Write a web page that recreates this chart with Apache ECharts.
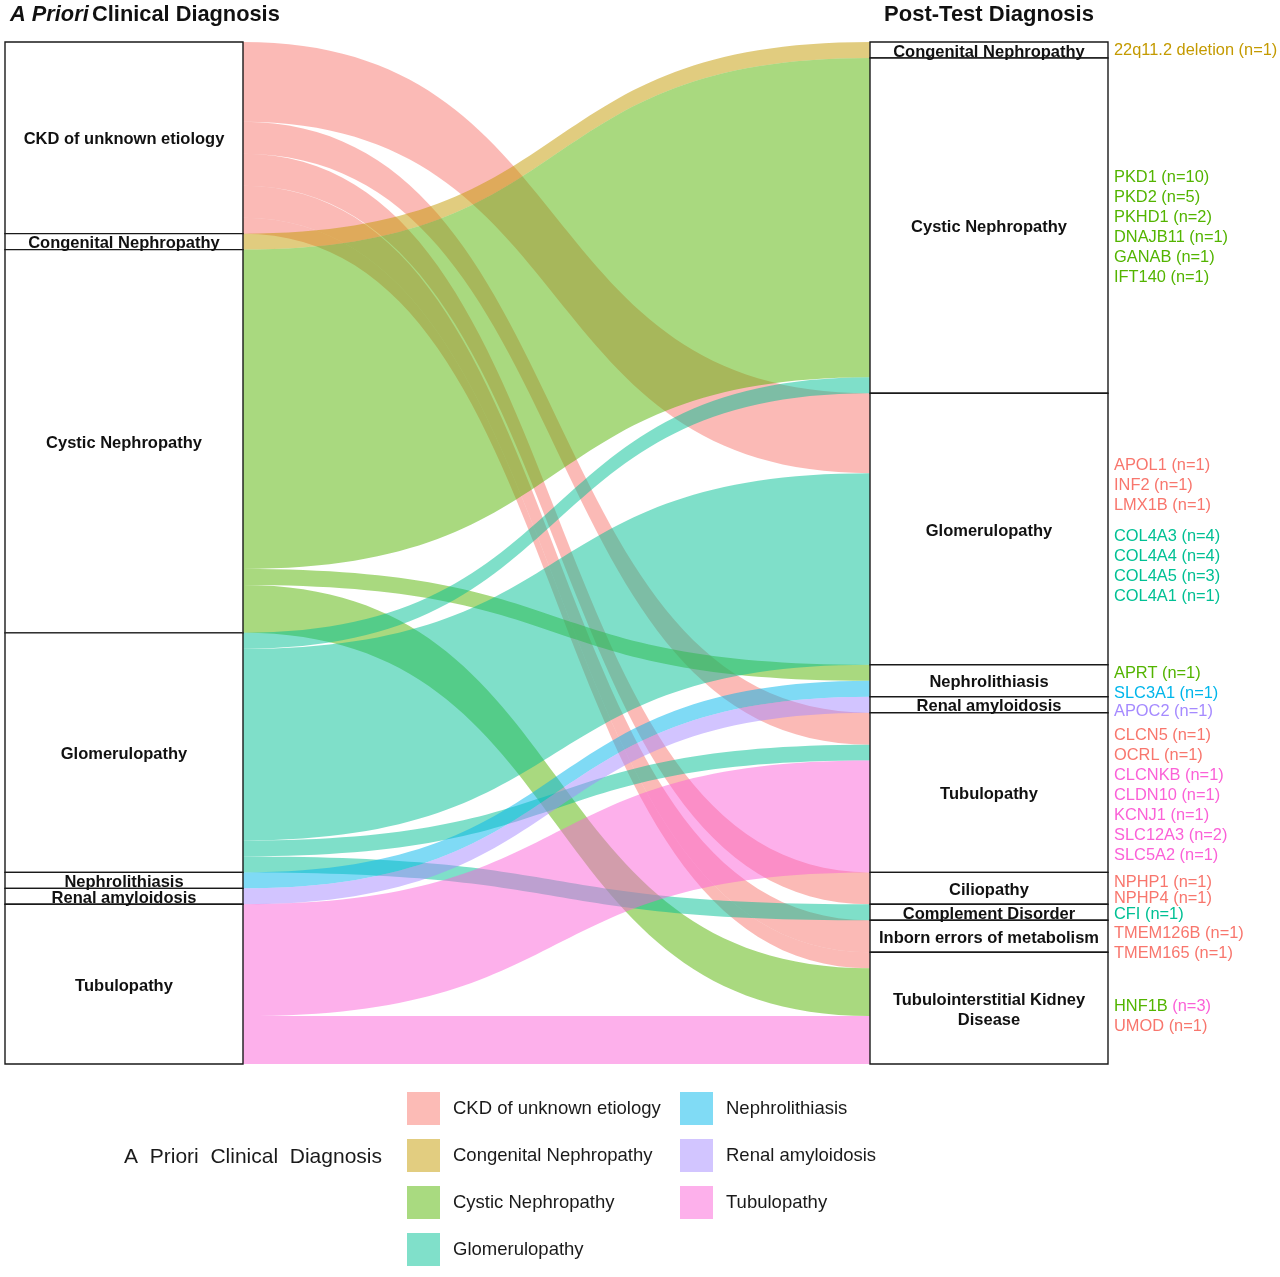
<!DOCTYPE html>
<html>
<head>
<meta charset="utf-8">
<title>A Priori vs Post-Test Diagnosis</title>
<script src="https://cdn.jsdelivr.net/npm/echarts@6/dist/echarts.min.js"></script>
<style>
  html, body { margin: 0; padding: 0; background: #fff; }
  #chart { width: 1280px; height: 1277px; }
</style>
</head>
<body>
<div id="chart"></div>
<script>
// strata, top to bottom
const prioriGroups = [
  'CKD of unknown etiology', 'Congenital Nephropathy', 'Cystic Nephropathy', 'Glomerulopathy',
  'Nephrolithiasis', 'Renal amyloidosis', 'Tubulopathy'
];
const postTestGroups = [
  'Congenital Nephropathy', 'Cystic Nephropathy', 'Glomerulopathy', 'Nephrolithiasis',
  'Renal amyloidosis', 'Tubulopathy', 'Ciliopathy', 'Complement Disorder',
  'Inborn errors of metabolism', 'Tubulointerstitial Kidney Disease'
];

// [a priori, post-test, patients]
const flows = [
  ['CKD of unknown etiology', 'Glomerulopathy', 5],
  ['CKD of unknown etiology', 'Tubulopathy', 2],
  ['CKD of unknown etiology', 'Ciliopathy', 2],
  ['CKD of unknown etiology', 'Inborn errors of metabolism', 2],
  ['CKD of unknown etiology', 'Tubulointerstitial Kidney Disease', 1],
  ['Congenital Nephropathy', 'Congenital Nephropathy', 1],
  ['Cystic Nephropathy', 'Cystic Nephropathy', 20],
  ['Cystic Nephropathy', 'Nephrolithiasis', 1],
  ['Cystic Nephropathy', 'Tubulointerstitial Kidney Disease', 3],
  ['Glomerulopathy', 'Cystic Nephropathy', 1],
  ['Glomerulopathy', 'Glomerulopathy', 12],
  ['Glomerulopathy', 'Tubulopathy', 1],
  ['Glomerulopathy', 'Complement Disorder', 1],
  ['Nephrolithiasis', 'Nephrolithiasis', 1],
  ['Renal amyloidosis', 'Renal amyloidosis', 1],
  ['Tubulopathy', 'Tubulopathy', 7],
  ['Tubulopathy', 'Tubulointerstitial Kidney Disease', 3]
];

// [post-test stratum, gene, n, group colouring the gene, group colouring the count]
const geneLabels = [
  ['Congenital Nephropathy', '22q11.2 deletion', 1, 'Congenital Nephropathy', 'Congenital Nephropathy'],
  ['Cystic Nephropathy', 'PKD1', 10, 'Cystic Nephropathy', 'Cystic Nephropathy'],
  ['Cystic Nephropathy', 'PKD2', 5, 'Cystic Nephropathy', 'Cystic Nephropathy'],
  ['Cystic Nephropathy', 'PKHD1', 2, 'Cystic Nephropathy', 'Cystic Nephropathy'],
  ['Cystic Nephropathy', 'DNAJB11', 1, 'Cystic Nephropathy', 'Cystic Nephropathy'],
  ['Cystic Nephropathy', 'GANAB', 1, 'Cystic Nephropathy', 'Cystic Nephropathy'],
  ['Cystic Nephropathy', 'IFT140', 1, 'Cystic Nephropathy', 'Cystic Nephropathy'],
  ['Glomerulopathy', 'APOL1', 1, 'CKD of unknown etiology', 'CKD of unknown etiology'],
  ['Glomerulopathy', 'INF2', 1, 'CKD of unknown etiology', 'CKD of unknown etiology'],
  ['Glomerulopathy', 'LMX1B', 1, 'CKD of unknown etiology', 'CKD of unknown etiology'],
  ['Glomerulopathy', 'COL4A3', 4, 'Glomerulopathy', 'Glomerulopathy'],
  ['Glomerulopathy', 'COL4A4', 4, 'Glomerulopathy', 'Glomerulopathy'],
  ['Glomerulopathy', 'COL4A5', 3, 'Glomerulopathy', 'Glomerulopathy'],
  ['Glomerulopathy', 'COL4A1', 1, 'Glomerulopathy', 'Glomerulopathy'],
  ['Nephrolithiasis', 'APRT', 1, 'Cystic Nephropathy', 'Cystic Nephropathy'],
  ['Nephrolithiasis', 'SLC3A1', 1, 'Nephrolithiasis', 'Nephrolithiasis'],
  ['Renal amyloidosis', 'APOC2', 1, 'Renal amyloidosis', 'Renal amyloidosis'],
  ['Tubulopathy', 'CLCN5', 1, 'CKD of unknown etiology', 'CKD of unknown etiology'],
  ['Tubulopathy', 'OCRL', 1, 'CKD of unknown etiology', 'CKD of unknown etiology'],
  ['Tubulopathy', 'CLCNKB', 1, 'Tubulopathy', 'Tubulopathy'],
  ['Tubulopathy', 'CLDN10', 1, 'Tubulopathy', 'Tubulopathy'],
  ['Tubulopathy', 'KCNJ1', 1, 'Tubulopathy', 'Tubulopathy'],
  ['Tubulopathy', 'SLC12A3', 2, 'Tubulopathy', 'Tubulopathy'],
  ['Tubulopathy', 'SLC5A2', 1, 'Tubulopathy', 'Tubulopathy'],
  ['Ciliopathy', 'NPHP1', 1, 'CKD of unknown etiology', 'CKD of unknown etiology'],
  ['Ciliopathy', 'NPHP4', 1, 'CKD of unknown etiology', 'CKD of unknown etiology'],
  ['Complement Disorder', 'CFI', 1, 'Glomerulopathy', 'Glomerulopathy'],
  ['Inborn errors of metabolism', 'TMEM126B', 1, 'CKD of unknown etiology', 'CKD of unknown etiology'],
  ['Inborn errors of metabolism', 'TMEM165', 1, 'CKD of unknown etiology', 'CKD of unknown etiology'],
  ['Tubulointerstitial Kidney Disease', 'HNF1B', 3, 'Cystic Nephropathy', 'Tubulopathy'],
  ['Tubulointerstitial Kidney Disease', 'UMOD', 1, 'CKD of unknown etiology', 'CKD of unknown etiology']
];

// styling
const FONT = '"Liberation Sans", Arial, Helvetica, sans-serif';
const hues = ['#F8766D', '#C49A00', '#53B400', '#00C094', '#00B6EB', '#A58AFF', '#FB61D7'];
const gapBefore = ['COL4A3'];
const tightLists = ['Ciliopathy'];
const labelNudge = {
  'Congenital Nephropathy': 0,
  'Nephrolithiasis': 3,
  'Renal amyloidosis': 7,
  'Tubulopathy': 3,
  'Inborn errors of metabolism': 7,
  'Tubulointerstitial Kidney Disease': 8
};
const labelBreaks = { 'Tubulointerstitial Kidney Disease': 'Tubulointerstitial Kidney\nDisease' };

function tint(hex) {
  // 50% over white, as the flows are drawn
  const n = parseInt(hex.slice(1), 16);
  const mix = c => Math.round((c + 255) / 2);
  return 'rgb(' + mix(n >> 16) + ',' + mix((n >> 8) & 255) + ',' + mix(n & 255) + ')';
}

const L = 'a:', R = 'b:';
const nodes = prioriGroups.map(g => ({ name: L + g }))
  .concat(postTestGroups.map(g => ({ name: R + g })));
const links = flows.map(f => ({
  source: L + f[0], target: R + f[1], value: f[2],
  lineStyle: { color: hues[prioriGroups.indexOf(f[0])], opacity: 0.5 }
}));

function stratumName(p) {
  const n = p.name.slice(2);
  return labelBreaks[n] || n;
}

function geneText(p) {
  if (p.name.indexOf(R) !== 0) return '';
  const node = p.name.slice(2);
  const t = tightLists.indexOf(node) >= 0 ? 't' : '';
  return geneLabels.filter(r => r[0] === node).map(r => {
    const line = '{g' + prioriGroups.indexOf(r[3]) + t + '|' + r[1] + ' }' +
      '{g' + prioriGroups.indexOf(r[4]) + t + '|(n=' + r[2] + ')}';
    return (gapBefore.indexOf(r[1]) >= 0 ? '{gap| }\n' : '') + line;
  }).join('\n');
}

const geneRich = { gap: { fontSize: 1, lineHeight: 11 } };
hues.forEach((c, i) => {
  geneRich['g' + i] = { color: c, fontSize: 16.4, lineHeight: 20, fontFamily: FONT };
  geneRich['g' + i + 't'] = { color: c, fontSize: 16.4, lineHeight: 16, fontFamily: FONT };
});

const sankeyBox = { left: 5, top: 42, right: 172, bottom: 213 };

const chart = echarts.init(document.getElementById('chart'), null, { renderer: 'canvas' });
chart.setOption({
  animation: false,
  backgroundColor: '#fff',
  grid: { show: false, left: 0, top: 0, width: 1, height: 1 },
  xAxis: { type: 'category', show: false, data: [] },
  yAxis: { type: 'value', show: false },
  graphic: [
    {
      type: 'text', x: 10, y: 15,
      style: {
        text: '{i|A Priori} {b|Clinical Diagnosis}', verticalAlign: 'middle',
        rich: {
          i: { font: 'italic bold 21.8px ' + FONT, fill: '#111' },
          b: { font: 'bold 21.8px ' + FONT, fill: '#111' }
        }
      }
    },
    {
      type: 'text', x: 989, y: 15,
      style: {
        text: 'Post-Test Diagnosis', font: 'bold 22px ' + FONT, fill: '#111',
        align: 'center', verticalAlign: 'middle'
      }
    },
    {
      type: 'text', x: 382, y: 1157,
      style: {
        text: 'A  Priori  Clinical  Diagnosis', font: '21px ' + FONT, fill: '#1a1a1a',
        align: 'right', verticalAlign: 'middle'
      }
    }
  ],
  legend: [
    { data: prioriGroups.slice(0, 4), left: 407, top: 1092 },
    { data: prioriGroups.slice(4), left: 680, top: 1092 }
  ].map(l => Object.assign({
    orient: 'vertical', icon: 'rect', itemWidth: 33, itemHeight: 33, itemGap: 14,
    padding: 0, selectedMode: false,
    textStyle: { fontSize: 18.5, color: '#1a1a1a', fontFamily: FONT, padding: [0, 0, 0, 8] }
  }, l, {
    data: l.data.map(g => ({ name: g, itemStyle: { color: tint(hues[prioriGroups.indexOf(g)]) } }))
  })),
  series: [
    Object.assign({
      type: 'sankey',
      nodeWidth: 238, nodeGap: 0, layoutIterations: 0, draggable: false,
      emphasis: { disabled: true },
      itemStyle: { color: '#fff', borderColor: '#1a1a1a', borderWidth: 1.4 },
      lineStyle: { curveness: 0.55 },
      label: {
        show: true, position: 'inside', offset: [0, 2], color: '#111', fontFamily: FONT,
        fontSize: 16.5, fontWeight: 'bold', lineHeight: 20, formatter: stratumName
      },
      data: nodes, links: links
    }, sankeyBox),
    // same layout again, only to carry the gene lists next to the post-test strata
    Object.assign({
      type: 'sankey', silent: true, z: 3,
      nodeWidth: 238, nodeGap: 0, layoutIterations: 0, draggable: false,
      emphasis: { disabled: true },
      itemStyle: { color: 'rgba(0,0,0,0)', borderWidth: 0 },
      lineStyle: { color: 'rgba(0,0,0,0)', opacity: 0 },
      label: {
        show: true, position: 'right', distance: 6, align: 'left',
        formatter: geneText, rich: geneRich
      },
      data: nodes.map(n => {
        const g = n.name.slice(2);
        if (n.name.indexOf(L) === 0) return { name: n.name, label: { show: false } };
        const dy = g in labelNudge ? labelNudge[g] : 2;
        return { name: n.name, label: { offset: [0, dy] } };
      }),
      links: flows.map(f => ({ source: L + f[0], target: R + f[1], value: f[2] }))
    }, sankeyBox)
  ].concat(prioriGroups.map((g, i) => ({
    type: 'bar', name: g, data: [], itemStyle: { color: tint(hues[i]) }
  })))
});
</script>
</body>
</html>
